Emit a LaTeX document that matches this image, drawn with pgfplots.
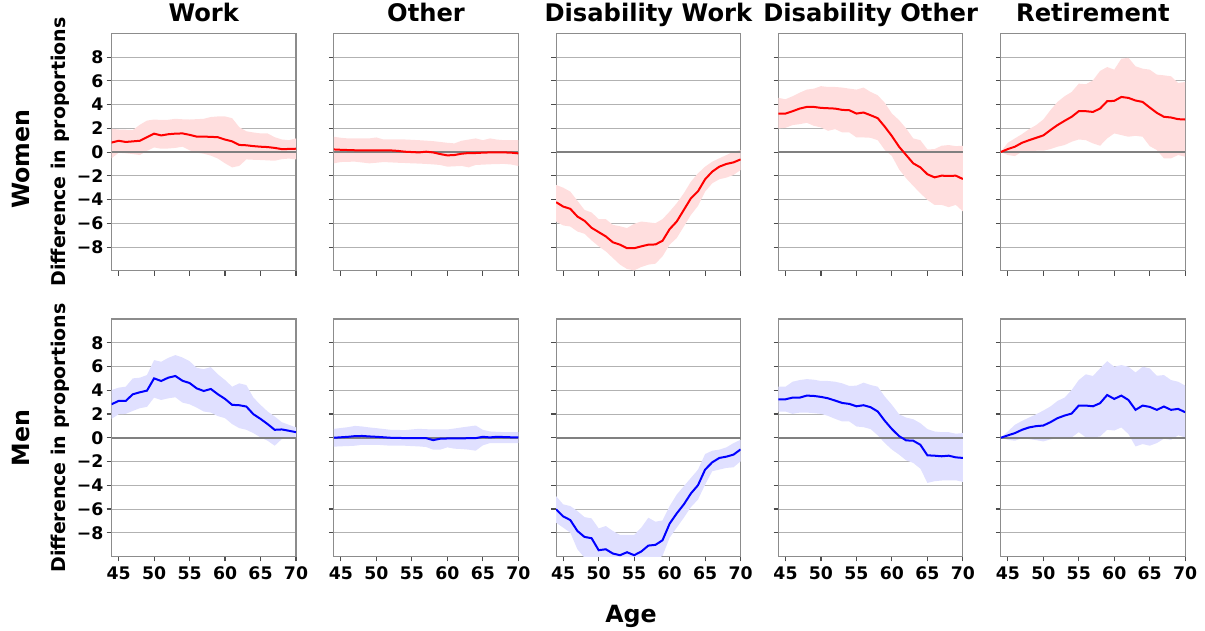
\documentclass[border=0pt]{standalone}
\usepackage{fontspec}
\setmainfont{DejaVu Sans}
\usepackage{pgfplots}
\usepackage{pgfplotstable}
\pgfplotsset{compat=1.18}

\colorlet{redfill}{red!13}
\colorlet{bluefill}{blue!12}
\newcommand\tickfont{\fontsize{17.3}{19}\selectfont\bfseries}
\newcommand\titlefont{\fontsize{24.2}{26}\selectfont\bfseries}
\newcommand\ylabfont{\fontsize{19}{21}\selectfont\bfseries}
\newcommand\rowfont{\fontsize{23.7}{26}\selectfont\bfseries}

% Women
\pgfplotstableread{
x m lo hi
44 0.80 -0.53 1.96
45 0.95 -0.06 1.90
46 0.85 -0.10 1.88
47 0.90 -0.17 1.85
48 0.95 -0.25 2.30
49 1.25 0.10 2.65
50 1.55 0.39 2.74
51 1.40 0.28 2.70
52 1.50 0.30 2.72
53 1.55 0.35 2.80
54 1.57 0.45 2.76
55 1.45 0.15 2.74
56 1.30 -0.05 2.77
57 1.30 -0.14 2.80
58 1.28 -0.30 2.95
59 1.25 -0.55 3.00
60 1.05 -0.95 3.00
61 0.90 -1.29 2.85
62 0.60 -1.17 2.10
63 0.57 -0.62 1.75
64 0.50 -0.65 1.65
65 0.45 -0.67 1.57
66 0.42 -0.70 1.57
67 0.35 -0.73 1.25
68 0.25 -0.60 1.06
69 0.26 -0.55 1.00
70 0.28 -0.62 1.15
}\tWa
\pgfplotstableread{
x m lo hi
44 0.22 -0.95 1.29
45 0.19 -0.84 1.20
46 0.17 -0.82 1.15
47 0.15 -0.81 1.15
48 0.14 -0.88 1.15
49 0.14 -0.95 1.15
50 0.14 -0.90 1.23
51 0.14 -0.84 1.06
52 0.14 -0.87 1.06
53 0.10 -0.90 1.06
54 0.03 -0.92 1.06
55 0.00 -0.95 1.03
56 -0.03 -0.97 1.00
57 0.03 -1.00 0.96
58 -0.03 -1.04 0.92
59 -0.17 -1.09 0.85
60 -0.28 -1.23 0.78
61 -0.25 -1.20 0.73
62 -0.14 -1.17 0.95
63 -0.08 -1.29 1.05
64 -0.08 -1.09 1.15
65 -0.05 -1.06 1.00
66 -0.03 -1.03 1.15
67 -0.03 -1.01 1.05
68 -0.03 -1.00 1.00
69 -0.05 -1.05 1.00
70 -0.11 -1.17 1.00
}\tWb
\pgfplotstableread{
x m lo hi
44 -4.22 -5.85 -2.77
45 -4.59 -6.18 -3.00
46 -4.78 -6.27 -3.33
47 -5.43 -6.69 -4.10
48 -5.79 -6.88 -4.87
49 -6.38 -7.44 -5.09
50 -6.74 -7.94 -5.65
51 -7.10 -8.36 -5.65
52 -7.60 -8.92 -6.13
53 -7.80 -9.48 -6.25
54 -8.10 -9.85 -6.40
55 -8.10 -9.96 -6.04
56 -7.94 -9.68 -5.85
57 -7.80 -9.48 -5.92
58 -7.78 -9.40 -5.99
59 -7.47 -8.78 -5.65
60 -6.49 -7.80 -5.01
61 -5.85 -7.24 -4.31
62 -4.87 -6.27 -3.47
63 -3.89 -5.29 -2.49
64 -3.30 -4.53 -1.79
65 -2.29 -3.33 -1.23
66 -1.65 -2.63 -0.81
67 -1.23 -2.29 -0.53
68 -1.00 -2.15 -0.25
69 -0.87 -1.93 0.03
70 -0.62 -1.51 0.17
}\tWc
\pgfplotstableread{
x m lo hi
44 3.24 1.99 4.56
45 3.24 2.04 4.45
46 3.44 2.27 4.70
47 3.66 2.35 5.00
48 3.80 2.46 5.26
49 3.80 2.21 5.34
50 3.72 2.07 5.55
51 3.69 1.79 5.48
52 3.66 1.93 5.48
53 3.55 1.65 5.43
54 3.52 1.65 5.34
55 3.24 1.23 5.26
56 3.33 1.23 5.43
57 3.10 1.20 5.06
58 2.85 1.00 4.78
59 2.13 0.17 4.14
60 1.34 -0.34 3.24
61 0.45 -1.45 2.69
62 -0.25 -2.21 1.99
63 -0.95 -2.85 1.15
64 -1.29 -3.47 1.00
65 -1.87 -4.03 0.22
66 -2.13 -4.45 0.25
67 -1.99 -4.45 0.53
68 -2.01 -4.64 0.59
69 -1.99 -4.45 0.50
70 -2.27 -5.00 0.53
}\tWd
\pgfplotstableread{
x m lo hi
44 0.00 0.00 0.00
45 0.25 -0.25 0.78
46 0.45 -0.34 1.15
47 0.78 0.03 1.51
48 1.00 0.08 1.93
49 1.20 0.11 2.27
50 1.40 0.11 2.74
51 1.85 0.25 3.52
52 2.27 0.45 4.22
53 2.63 0.59 4.70
54 2.97 0.87 5.06
55 3.44 1.06 5.76
56 3.44 1.00 5.71
57 3.38 0.73 6.04
58 3.66 0.53 6.83
59 4.28 1.15 7.16
60 4.31 1.57 6.94
61 4.64 1.43 7.86
62 4.56 1.29 7.94
63 4.34 1.37 7.22
64 4.22 1.29 7.02
65 3.75 0.50 6.94
66 3.30 0.17 6.52
67 2.97 -0.53 6.46
68 2.91 -0.53 6.38
69 2.77 -0.25 5.82
70 2.74 -0.39 5.90
}\tWe
% Men
\pgfplotstableread{
x m lo hi
44 2.82 1.59 4.02
45 3.10 1.98 4.22
46 3.10 2.01 4.30
47 3.66 2.26 5.00
48 3.83 2.49 5.06
49 3.97 2.60 5.28
50 5.00 3.38 6.54
51 4.78 3.18 6.40
52 5.06 3.32 6.73
53 5.20 3.41 6.96
54 4.80 2.96 6.76
55 4.61 2.82 6.45
56 4.16 2.54 5.89
57 3.94 2.21 5.78
58 4.11 2.12 5.95
59 3.66 1.82 5.34
60 3.27 1.65 4.86
61 2.77 1.15 4.30
62 2.74 0.81 4.58
63 2.63 0.67 4.44
64 1.98 0.39 3.38
65 1.59 0.03 2.77
66 1.15 -0.25 2.21
67 0.67 -0.67 1.79
68 0.70 -0.11 1.31
69 0.59 -0.08 1.09
70 0.47 -0.08 0.87
}\tMa
\pgfplotstableread{
x m lo hi
44 0.00 -0.75 0.75
45 0.04 -0.72 0.82
46 0.08 -0.70 0.89
47 0.14 -0.67 1.00
48 0.15 -0.59 0.95
49 0.11 -0.59 0.87
50 0.08 -0.59 0.81
51 0.04 -0.63 0.74
52 0.00 -0.67 0.67
53 -0.01 -0.67 0.66
54 -0.03 -0.67 0.64
55 -0.03 -0.70 0.70
56 -0.03 -0.73 0.75
57 -0.03 -0.78 0.72
58 -0.20 -1.00 0.70
59 -0.08 -1.00 0.70
60 -0.06 -0.81 0.70
61 -0.06 -0.92 0.78
62 -0.06 -0.95 0.87
63 -0.03 -1.00 0.95
64 -0.03 -1.09 1.03
65 0.08 -0.64 0.67
66 0.03 -0.45 0.53
67 0.08 -0.45 0.50
68 0.06 -0.45 0.47
69 0.04 -0.45 0.47
70 0.03 -0.45 0.47
}\tMb
\pgfplotstableread{
x m lo hi
44 -6.03 -7.15 -4.92
45 -6.62 -7.57 -5.61
46 -6.93 -7.99 -5.75
47 -7.85 -9.39 -6.17
48 -8.35 -10.10 -6.68
49 -8.46 -10.50 -6.79
50 -9.47 -10.80 -7.63
51 -9.39 -10.90 -7.43
52 -9.75 -11.00 -7.85
53 -9.89 -11.00 -8.18
54 -9.64 -11.00 -8.18
55 -9.89 -11.00 -8.18
56 -9.58 -10.90 -7.57
57 -9.08 -10.60 -6.73
58 -9.02 -10.30 -7.07
59 -8.63 -9.94 -6.96
60 -7.23 -8.41 -5.75
61 -6.37 -7.57 -4.78
62 -5.61 -6.73 -4.08
63 -4.69 -5.84 -3.38
64 -3.99 -5.20 -2.68
65 -2.68 -3.94 -1.37
66 -2.07 -2.82 -1.09
67 -1.70 -2.68 -1.00
68 -1.59 -2.54 -0.81
69 -1.42 -2.49 -0.45
70 -0.98 -1.98 -0.17
}\tMc
\pgfplotstableread{
x m lo hi
44 3.24 2.21 4.30
45 3.24 2.21 4.30
46 3.38 2.01 4.72
47 3.38 2.12 4.86
48 3.55 2.12 4.94
49 3.52 2.07 4.89
50 3.44 2.01 4.78
51 3.32 1.84 4.78
52 3.13 1.59 4.72
53 2.93 1.37 4.58
54 2.85 1.37 4.36
55 2.65 0.95 4.39
56 2.74 0.89 4.64
57 2.57 0.73 4.44
58 2.21 0.20 4.30
59 1.42 -0.45 3.46
60 0.73 -1.00 2.77
61 0.14 -1.42 1.98
62 -0.22 -1.90 1.70
63 -0.25 -2.12 1.56
64 -0.59 -2.60 1.23
65 -1.48 -3.80 0.73
66 -1.51 -3.66 0.53
67 -1.56 -3.60 0.47
68 -1.51 -3.58 0.47
69 -1.65 -3.58 0.34
70 -1.70 -3.72 0.39
}\tMd
\pgfplotstableread{
x m lo hi
44 0.00 0.00 0.00
45 0.20 -0.17 0.53
46 0.39 -0.25 1.09
47 0.67 -0.03 1.42
48 0.87 -0.11 1.70
49 0.98 -0.20 1.98
50 1.03 -0.31 2.29
51 1.31 -0.14 2.63
52 1.65 -0.03 3.10
53 1.87 0.06 3.38
54 2.04 0.03 4.02
55 2.71 0.47 4.86
56 2.71 0.03 5.34
57 2.65 0.03 5.20
58 2.91 0.11 5.84
59 3.60 0.67 6.45
60 3.27 0.61 5.98
61 3.55 0.87 6.12
62 3.18 0.31 5.98
63 2.35 -0.73 5.50
64 2.71 -0.53 5.98
65 2.60 -0.67 5.84
66 2.35 -0.45 5.22
67 2.63 -0.08 5.28
68 2.35 -0.17 4.86
69 2.43 0.20 4.72
70 2.15 0.03 4.39
}\tMe

\pgfplotsset{
  panel/.style={
    scale only axis, width=184.5pt, height=237.5pt, anchor=north west,
    xmin=44, xmax=70, ymin=-10, ymax=10,
    xtick={45,50,55,60,65,70}, ytick={-8,-6,-4,-2,0,2,4,6,8},
    xticklabels={45,50,55,60,65,70},
    yticklabels={−8,−6,−4,−2,0,2,4,6,8},
    ymajorgrids, grid style={color=black!30, line width=1pt},
    axis line style={color=black!45, line width=1.1pt},
    tick style={color=black!70, line width=1.1pt},
    tick align=outside, major tick length=4.9pt,
    xtick pos=left, ytick pos=left,
    tick label style={font=\tickfont, inner sep=0pt},
    xticklabel style={anchor=north, yshift=-5.4pt},
    yticklabel style={anchor=east, xshift=-3pt},
    title style={font=\titlefont, anchor=base, yshift=6.3pt, inner sep=0pt},
  }
}
\newcommand\drawpanel[5]{%
\begin{axis}[panel, at={(#1pt,#2pt)}, #5]
\addplot[draw=none, stack plots=y, forget plot] table[x=x,y=lo]{#3};
\addplot[fill=#4fill, draw=none, stack plots=y, forget plot] table[x=x,y expr=\thisrow{hi}-\thisrow{lo}]{#3} \closedcycle;
\addplot[stack plots=false, black!50, line width=1.7pt, forget plot] coordinates {(44,0) (70,0)};
\addplot[stack plots=false, #4, line width=2pt, forget plot] table[x=x,y=m]{#3};
\end{axis}}

\begin{document}
\begin{tikzpicture}
\path (0,0) rectangle (1205pt,-630pt);
\drawpanel{111.5}{-33.3}{\tWa}{red}{title={Work}, xticklabels={}}
\drawpanel{333.8}{-33.3}{\tWb}{red}{title={Other}, xticklabels={}, yticklabels={}}
\drawpanel{556.1}{-33.3}{\tWc}{red}{title={Disability Work}, xticklabels={}, yticklabels={}}
\drawpanel{778.4}{-33.3}{\tWd}{red}{title={Disability Other}, xticklabels={}, yticklabels={}}
\drawpanel{1000.7}{-33.3}{\tWe}{red}{title={Retirement}, xticklabels={}, yticklabels={}}
\drawpanel{111.5}{-319}{\tMa}{blue}{}
\drawpanel{333.8}{-319}{\tMb}{blue}{yticklabels={}}
\drawpanel{556.1}{-319}{\tMc}{blue}{yticklabels={}}
\drawpanel{778.4}{-319}{\tMd}{blue}{yticklabels={}}
\drawpanel{1000.7}{-319}{\tMe}{blue}{yticklabels={}}
\node[rotate=90, anchor=base, font=\ylabfont, inner sep=0pt] at (65.5pt,-152pt) {Difference in proportions};
\node[rotate=90, anchor=base, font=\ylabfont, inner sep=0pt] at (65.5pt,-438pt) {Difference in proportions};
\node[rotate=90, anchor=base, font=\rowfont, inner sep=0pt] at (29.5pt,-159pt) {Women};
\node[rotate=90, anchor=base, font=\rowfont, inner sep=0pt] at (29.5pt,-438pt) {Men};
\node[anchor=base, font=\rowfont, inner sep=0pt] at (631pt,-622pt) {Age};
\end{tikzpicture}
\end{document}
